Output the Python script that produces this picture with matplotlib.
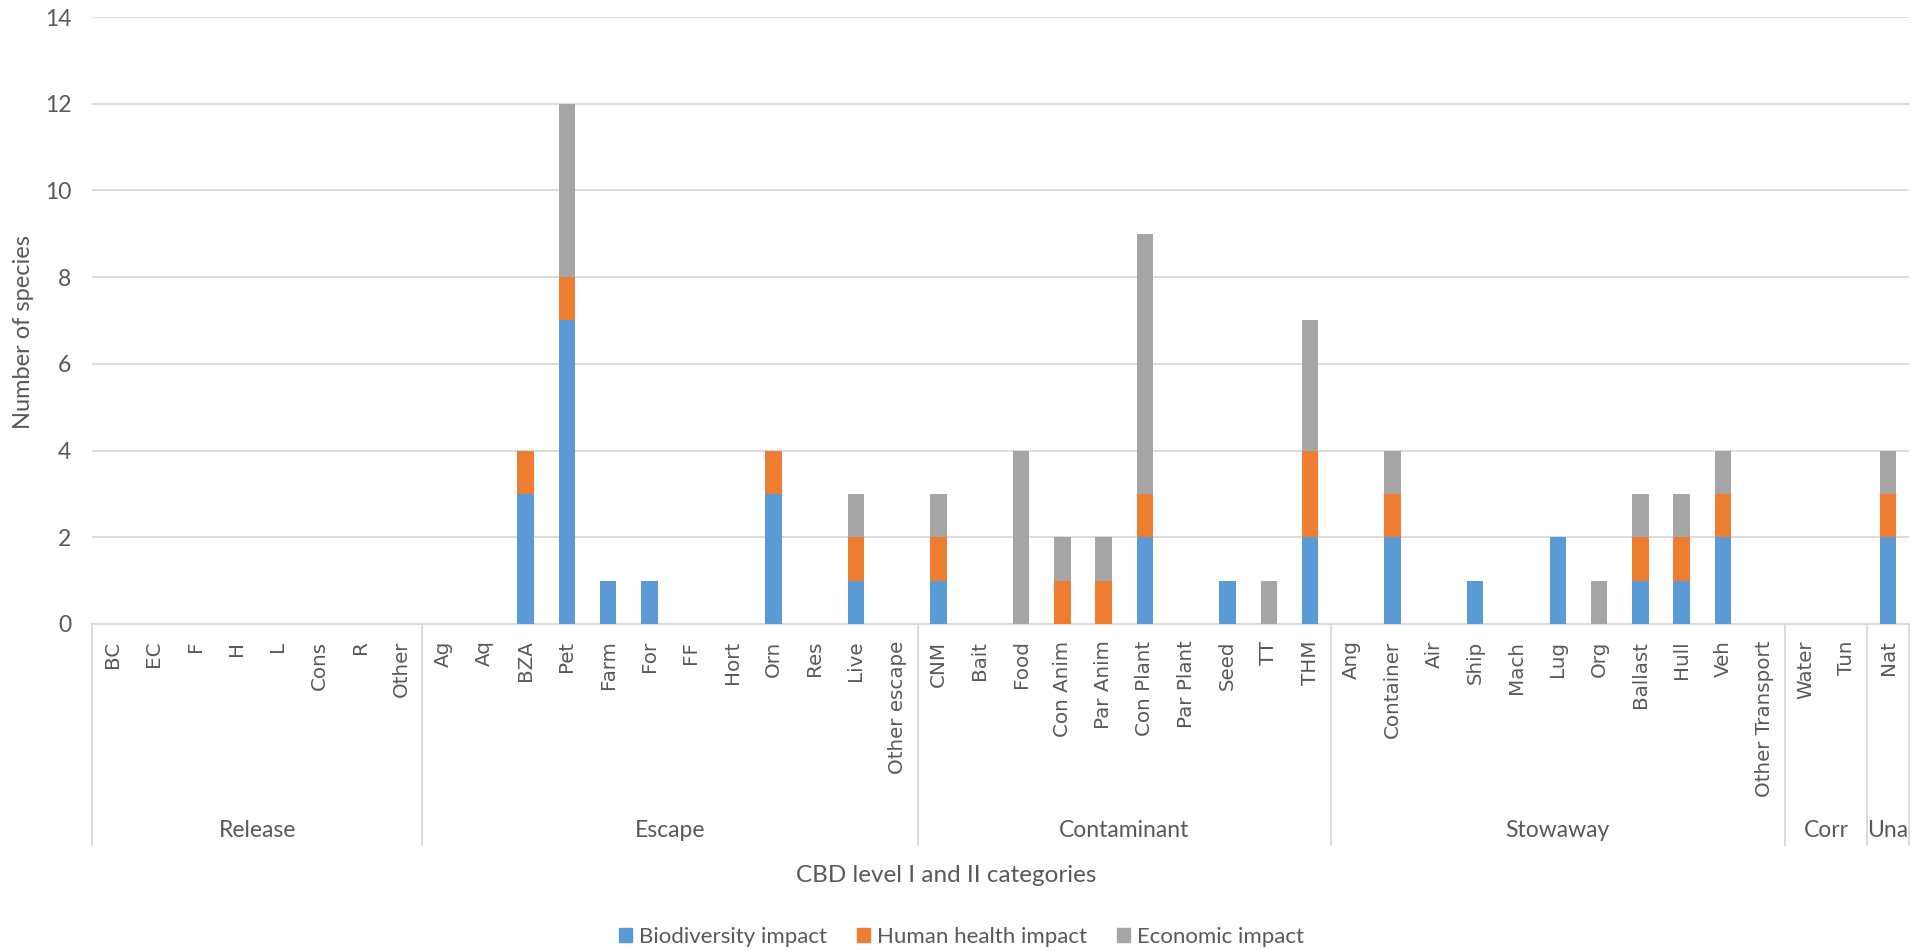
import numpy as np
import matplotlib.pyplot as plt
from matplotlib.patches import Patch

# CBD level I groups and their level II categories
groups = ['Release', 'Escape', 'Contaminant', 'Stowaway', 'Corr', 'Una']
group_sizes = [8, 12, 10, 11, 2, 1]
categories = ['BC', 'EC', 'F', 'H', 'L', 'Cons', 'R', 'Other',
              'Ag', 'Aq', 'BZA', 'Pet', 'Farm', 'For', 'FF', 'Hort', 'Orn', 'Res', 'Live', 'Other escape',
              'CNM', 'Bait', 'Food', 'Con Anim', 'Par Anim', 'Con Plant', 'Par Plant', 'Seed', 'TT', 'THM',
              'Ang', 'Container', 'Air', 'Ship', 'Mach', 'Lug', 'Org', 'Ballast', 'Hull', 'Veh', 'Other Transport',
              'Water', 'Tun',
              'Nat']

biodiversity = [0, 0, 0, 0, 0, 0, 0, 0,
                0, 0, 3, 7, 1, 1, 0, 0, 3, 0, 1, 0,
                1, 0, 0, 0, 0, 2, 0, 1, 0, 2,
                0, 2, 0, 1, 0, 2, 0, 1, 1, 2, 0,
                0, 0,
                2]
human_health = [0, 0, 0, 0, 0, 0, 0, 0,
                0, 0, 1, 1, 0, 0, 0, 0, 1, 0, 1, 0,
                1, 0, 0, 1, 1, 1, 0, 0, 0, 2,
                0, 1, 0, 0, 0, 0, 0, 1, 1, 1, 0,
                0, 0,
                1]
economic = [0, 0, 0, 0, 0, 0, 0, 0,
            0, 0, 0, 4, 0, 0, 0, 0, 0, 0, 1, 0,
            1, 0, 4, 1, 1, 6, 0, 0, 1, 3,
            0, 1, 0, 0, 0, 0, 1, 1, 1, 1, 0,
            0, 0,
            1]

blue = '#5B9BD5'
orange = '#ED7D31'
grey = '#A5A5A5'
txt = '#595959'
line_c = '#D9D9D9'
lab_font = ['Lato', 'DejaVu Sans']

fig = plt.figure(figsize=(19.3, 9.51), dpi=100)
ax = fig.add_axes([0.0477, 0.344, 0.9413, 0.638])

x = np.arange(len(categories))
b = np.array(biodiversity)
h = np.array(human_health)
e = np.array(economic)
w = 0.4
ax.bar(x, b, w, color=blue, zorder=3)
ax.bar(x, h, w, bottom=b, color=orange, zorder=3)
ax.bar(x, e, w, bottom=b + h, color=grey, zorder=3)

ax.set_xlim(-0.5, len(categories) - 0.5)
ax.set_ylim(0, 14)
ax.set_yticks(np.arange(0, 15, 2))
ax.yaxis.grid(True, color=line_c, linewidth=1.3)
ax.set_axisbelow(True)
for s in ['top', 'right', 'left']:
    ax.spines[s].set_visible(False)
ax.spines['bottom'].set_color(line_c)
ax.spines['bottom'].set_linewidth(1.3)
ax.tick_params(axis='y', length=0, pad=15, labelsize=16.5, labelcolor=txt)
for t in ax.get_yticklabels():
    t.set_family(lab_font)

ax.set_xticks(x)
ax.set_xticklabels(categories, rotation=90, fontsize=14.3, color=txt, family='DejaVu Sans')
ax.tick_params(axis='x', length=0, pad=12)

# group separators and level I labels
trans = ax.get_xaxis_transform()
bounds = np.concatenate([[0], np.cumsum(group_sizes)]) - 0.5
for bx in bounds:
    ax.plot([bx, bx], [0, -0.364], transform=trans, color=line_c, lw=1.3, clip_on=False)
for i, g in enumerate(groups):
    mid = (bounds[i] + bounds[i + 1]) / 2
    ax.text(mid, -0.341, g, transform=trans, ha='center', va='center',
            fontsize=16.5, color=txt, family=lab_font)

fig.text(24 / 1930, 1 - 332 / 951, 'Number of species',
         rotation=90, ha='center', va='center', fontsize=17, color=txt, family=lab_font)
fig.text(0.49, 1 - 875 / 951, 'CBD level I and II categories', ha='center', va='center',
         fontsize=17.5, color=txt, family=lab_font)

handles = [Patch(color=blue, label='Biodiversity impact'),
           Patch(color=orange, label='Human health impact'),
           Patch(color=grey, label='Economic impact')]
leg = fig.legend(handles=handles, loc='center', bbox_to_anchor=(0.498, 1 - 937 / 951), ncol=3,
                 frameon=False, handlelength=0.6, handleheight=0.6, handletextpad=0.3,
                 columnspacing=1.35, prop={'family': lab_font, 'size': 16})
for t in leg.get_texts():
    t.set_color(txt)

fig.savefig('out.png', dpi=100)
